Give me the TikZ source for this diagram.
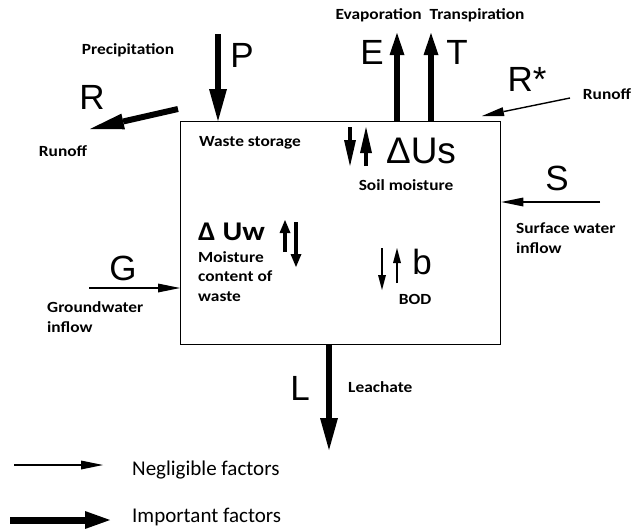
\documentclass[tikz,border=0pt]{standalone}
\usepackage{fontspec}
\setmainfont{Carlito}
\newfontfamily\lab[FakeStretch=1.12]{Carlito}
\newfontfamily\hv{Liberation Sans}
\usetikzlibrary{arrows.meta}
\begin{document}
\begin{tikzpicture}[x=1pt,y=-1pt,
  big/.style={font=\hv\fontsize{35}{35}\selectfont, inner sep=0pt},
  lbl/.style={font=\lab\bfseries\fontsize{15.5}{19.5}\selectfont, inner sep=0pt},
  heavy/.style={line width=6pt, -{Triangle[length=32pt,width=18pt,line width=0pt]}},
  light/.style={line width=1.4pt, -{Triangle[length=22pt,width=9pt,line width=0pt]}},
  pairbig/.style={line width=4.5pt, -{Triangle[length=26pt,width=12pt,line width=0pt]}},
  pairmid/.style={line width=3.2pt, -{Triangle[length=13pt,width=11pt,line width=0pt]}},
  pairsmall/.style={line width=2pt, -{Triangle[length=15pt,width=8pt,line width=0pt]}}]
\useasboundingbox (0,0) rectangle (635,528);
\fill[white] (0,0) rectangle (635,528);

% main box
\node[draw, line width=1.3pt, minimum width=320pt, minimum height=223pt, anchor=north west, inner sep=0pt] (box) at (180,121) {};

% coordinates
\coordinate (p0) at (218,34);
\coordinate (e0) at (397,33);
\coordinate (t0) at (431,33);
\coordinate (rs0) at (570,98);
\coordinate (rs1) at (482,116);
\coordinate (s0) at (600,202);
\coordinate (g0) at (89,288);
\coordinate (r0) at (178,109);
\coordinate (r1) at (90,129);
\coordinate (l1) at (329,450);

% important factors
\draw[heavy] (p0) -- (p0 |- box.north);
\draw[heavy, -{Triangle[length=22pt,width=15pt,line width=0pt]}] (e0 |- box.north) -- (e0);
\draw[heavy, -{Triangle[length=22pt,width=15pt,line width=0pt]}] (t0 |- box.north) -- (t0);
\draw[heavy, -{Triangle[length=34pt,width=16pt,line width=0pt]}] (r0) -- (r1);
\draw[heavy] (l1 |- box.south) -- (l1);

% negligible factors
\draw[light] (rs0) -- (rs1);
\draw[light] (s0) -- (s0 -| box.east);
\draw[light] (g0) -- (g0 -| box.west);

% labels outside
\node[lbl] (prec) at (128,50) {Precipitation};
\node[big] (P) at (242,55) {P};
\node[big] (R) at (92,97) {R};
\node[lbl] (run1) at (63,151) {Runoff};
\node[lbl] (evtr) at (430,15) {Evaporation\ \ Transpiration};
\node[big] (E) at (372,52) {E};
\node[big] (T) at (457,52) {T};
\node[big] (Rs) at (527,79) {R*};
\node[lbl] (run2) at (607,94) {Runoff};
\node[big] (S) at (557,178) {S};
\node[lbl, anchor=west, align=left] (sw) at (516,238) {Surface water\\inflow};
\node[big] (G) at (123,268) {G};
\node[lbl, anchor=west, align=left] (gw) at (47,317) {Groundwater\\inflow};
\node[big] (L) at (300,388) {L};
\node[lbl, anchor=west] (lea) at (348,387) {Leachate};

% inside box
\node[lbl] (ws) at (250,143) {Waste storage};
\node[font=\hv\fontsize{37}{37}\selectfont, inner sep=0pt] (dus) at (421,151) {ΔUs};
\node[lbl] (sm) at (406,185) {Soil moisture};
\coordinate (us1) at (350,127);
\coordinate (us2) at (366,166);
\draw[pairbig] (us1) -- (us1 |- us2);
\draw[pairbig] (us2) -- (us2 |- us1);

\node[font=\lab\bfseries\fontsize{27}{27}\selectfont, inner sep=0pt, anchor=west] (duw) at (198,232) {Δ Uw};
\node[lbl, anchor=north west, align=left] (mc) at (198,251) {Moisture\\content of\\waste};
\coordinate (uw1) at (285,252);
\coordinate (uw2) at (285,220);
\coordinate (uw3) at (296,222);
\coordinate (uw4) at (296,267);
\draw[pairmid] (uw1) -- (uw2);
\draw[pairmid] (uw3) -- (uw4);

\node[font=\hv\fontsize{35}{35}\selectfont, inner sep=0pt] (b) at (422,262) {b};
\node[lbl] (bod) at (415,299) {BOD};
\coordinate (bd1) at (382,248);
\coordinate (bd2) at (382,290);
\coordinate (bu1) at (397,283);
\coordinate (bu2) at (397,248);
\draw[pairsmall] (bd1) -- (bd2);
\draw[pairsmall] (bu1) -- (bu2);

% legend
\coordinate (n0) at (14,465);
\coordinate (n1) at (103,465);
\coordinate (i0) at (10,520);
\coordinate (i1) at (110,520);
\draw[light] (n0) -- (n1);
\draw[line width=7pt, -{Triangle[length=25pt,width=18pt,line width=0pt]}] (i0) -- (i1);
\node[font=\fontsize{21}{21}\selectfont, inner sep=0pt, anchor=west] (neg) at (132,470) {Negligible factors};
\node[font=\fontsize{21}{21}\selectfont, inner sep=0pt, anchor=west] (imp) at (132,517) {Important factors};
\end{tikzpicture}
\end{document}
